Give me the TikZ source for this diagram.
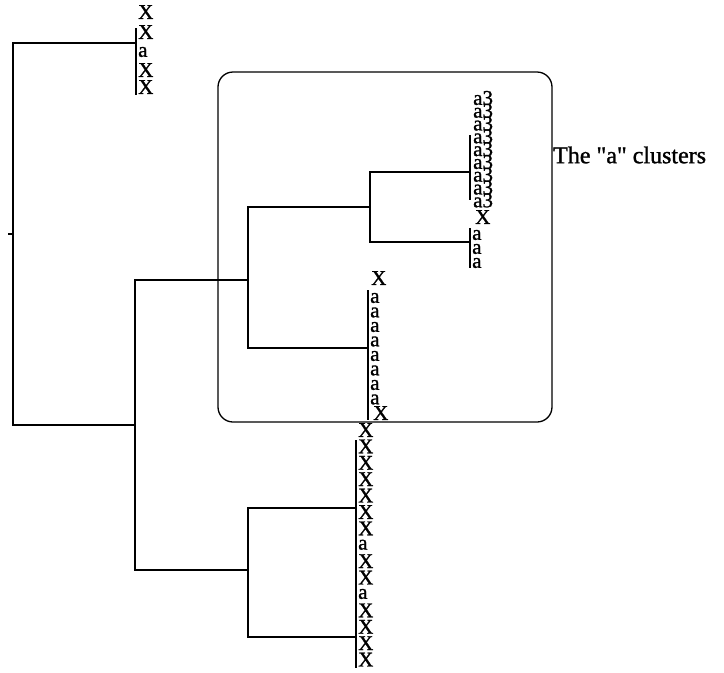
\documentclass[tikz,border=0pt]{standalone}
\usepackage{fontspec}
\setmainfont{Liberation Serif}[Ligatures=TeXOff]
\newfontfamily\scanfont{Liberation Serif}[Ligatures=TeXOff,FakeBold=1.2]
\begin{document}
\begin{tikzpicture}[x=1pt,y=-1pt,
  tree/.style={line width=1.2pt,black},
  leafbar/.style={line width=2pt,black},
  leaflabel/.style={anchor=west,inner sep=0pt,font=\scanfont\fontsize{21}{21}\selectfont},
  captext/.style={anchor=west,inner sep=0pt,font=\scanfont\fontsize{24}{24}\selectfont},
  boxframe/.style={line width=1.3pt,rounded corners=15pt}]
\useasboundingbox (0,0) rectangle (724,673);
% frame around the "a" clusters
\draw[boxframe] (218,72) rectangle (552,422);
\node[captext] (caption) at (553,155) {The "a" clusters};
% join points
\coordinate (tick) at (8,234);
\coordinate (root) at (13,234);
\coordinate (jtop) at (136,43);
\coordinate (jlow) at (135,425);
\coordinate (jbox) at (248,280);
\coordinate (jaa) at (370,207);
\coordinate (ja3) at (470,172);
\coordinate (jaS) at (470,242);
\coordinate (jmid) at (368,348);
\coordinate (jbot) at (248,570);
\coordinate (jb1) at (356,508);
\coordinate (jb2) at (356,637);
% tree
\draw[tree] (tick) -- (root);
\draw[tree] (jtop) -| (root) |- (jlow);
\draw[tree] (jbox) -| (jlow) |- (jbot);
\draw[tree] (jaa) -| (jbox) |- (jmid);
\draw[tree] (ja3) -| (jaa) |- (jaS);
\draw[tree] (jb1) -| (jbot) |- (jb2);
% leaf bars
\draw[leafbar] (136,28) -- (136,95);
\draw[leafbar] (470,135) -- (470,200);
\draw[leafbar] (470,228) -- (470,268);
\draw[leafbar] (368,290) -- (368,420);
\draw[leafbar] (356,440) -- (356,668);
% top cluster leaves
\foreach \t/\yy [count=\i] in {X/12,X/32,a/52,X/70,X/87} {
  \node[leaflabel] (t\i) at (138,\yy) {\t};
}
% a3 cluster
\foreach \i in {0,...,8} {
  \node[leaflabel] (p\i) at (473,98+12.8*\i) {a3};
}
\node[leaflabel] (px) at (475,217) {X};
\foreach \yy [count=\i] in {235,249,263} {
  \node[leaflabel] (q\i) at (472,\yy) {a};
}
% middle cluster
\node[leaflabel] (mx1) at (371,278) {X};
\foreach \i in {0,...,7} {
  \node[leaflabel] (m\i) at (370,298+14.5*\i) {a};
}
\node[leaflabel] (mx2) at (373,413) {X};
% bottom cluster
\foreach \t [count=\i] in {X,X,X,X,X,X,X,a,X,X,a,X,X,X,X} {
  \node[leaflabel] (b\i) at (358,430+16.4*\i-16.4) {\t};
}
\end{tikzpicture}
\end{document}
